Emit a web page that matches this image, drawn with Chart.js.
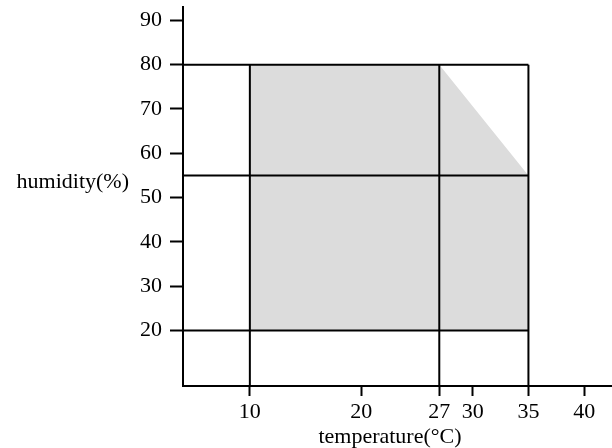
<!DOCTYPE html>
<html>
<head>
<meta charset="utf-8">
<script src="https://cdn.jsdelivr.net/npm/chart.js@4.4.1/dist/chart.umd.min.js"></script>
<style>
  html, body { margin: 0; padding: 0; background: #fff; }
  #wrap { width: 612px; height: 448px; position: relative; }
</style>
</head>
<body>
<div id="wrap"><canvas id="c" width="612" height="448"></canvas></div>
<script>
// ---- data ----
const xTickValues = [10, 20, 27, 30, 35, 40];
const yTickValues = [20, 30, 40, 50, 60, 70, 80, 90];
const zoneTemp = [10, 10, 27, 35, 35];       // comfort zone outline (x)
const zoneHum  = [20, 80, 80, 55, 20];       // comfort zone outline (y)
const tempLimits = [10, 27, 35];             // vertical boundary lines
const humLimits  = [20, 55, 80];             // horizontal boundary lines
const xRange = [4, 42.5];
const yRange = [7.5, 93];
const xTitle = 'temperature(°C)';
const yTitle = 'humidity(%)';

const FONT = '"Liberation Serif", "Times New Roman", serif';
const fontSize = 22;

const zonePoints = zoneTemp.map((t, i) => ({ x: t, y: zoneHum[i] }));
const tMax = Math.max(...tempLimits);
const hMax = Math.max(...humLimits);

const lineStyle = {
  showLine: true, borderColor: '#000', borderWidth: 2,
  pointRadius: 0, fill: false, order: 0, borderCapStyle: 'butt'
};

const datasets = [
  {
    data: zonePoints, showLine: true, borderWidth: 0, borderColor: 'rgba(0,0,0,0)',
    backgroundColor: '#dcdcdc', fill: 'shape', pointRadius: 0, order: 5
  }
];
humLimits.forEach(h => datasets.push(Object.assign({}, lineStyle, {
  data: [{ x: xRange[0], y: h }, { x: tMax, y: h }]
})));
tempLimits.forEach(t => datasets.push(Object.assign({}, lineStyle, {
  data: [{ x: t, y: yRange[0] }, { x: t, y: hMax }]
})));

const titlePlugin = {
  id: 'axisTitles',
  afterDraw(chart) {
    const ctx = chart.ctx;
    ctx.save();
    ctx.fillStyle = '#000';
    ctx.font = fontSize + 'px ' + FONT;
    ctx.textAlign = 'right';
    ctx.textBaseline = 'middle';
    ctx.fillText(yTitle, 129, 182);
    ctx.textAlign = 'center';
    ctx.fillText(xTitle, 390, 437);
    ctx.restore();
  }
};

const noPad = s => { s.paddingTop = 0; s.paddingBottom = 0; s.paddingLeft = 0; s.paddingRight = 0; };

new Chart(document.getElementById('c'), {
  type: 'scatter',
  data: { datasets },
  plugins: [titlePlugin],
  options: {
    responsive: false,
    animation: false,
    layout: { padding: { top: 7, left: 0, right: 0, bottom: 0 } },
    plugins: { legend: { display: false }, tooltip: { enabled: false } },
    scales: {
      x: {
        type: 'linear', min: xRange[0], max: xRange[1],
        afterBuildTicks: s => { s.ticks = xTickValues.map(v => ({ value: v })); },
        afterFit: s => { s.height = 62; noPad(s); },
        border: { display: true, color: '#000', width: 2 },
        grid: { drawOnChartArea: false, drawTicks: true, tickLength: 10, tickWidth: 2, color: '#000' },
        ticks: { color: '#000', font: { family: FONT, size: fontSize }, padding: 3, maxRotation: 0, autoSkip: false }
      },
      y: {
        type: 'linear', min: yRange[0], max: yRange[1],
        afterBuildTicks: s => { s.ticks = yTickValues.map(v => ({ value: v })); },
        afterFit: s => { s.width = 183; noPad(s); },
        border: { display: true, color: '#000', width: 2 },
        grid: { drawOnChartArea: false, drawTicks: true, tickLength: 13, tickWidth: 2, color: '#000' },
        ticks: { color: '#000', font: { family: FONT, size: fontSize }, padding: 8, autoSkip: false }
      }
    }
  }
});
</script>
</body>
</html>
